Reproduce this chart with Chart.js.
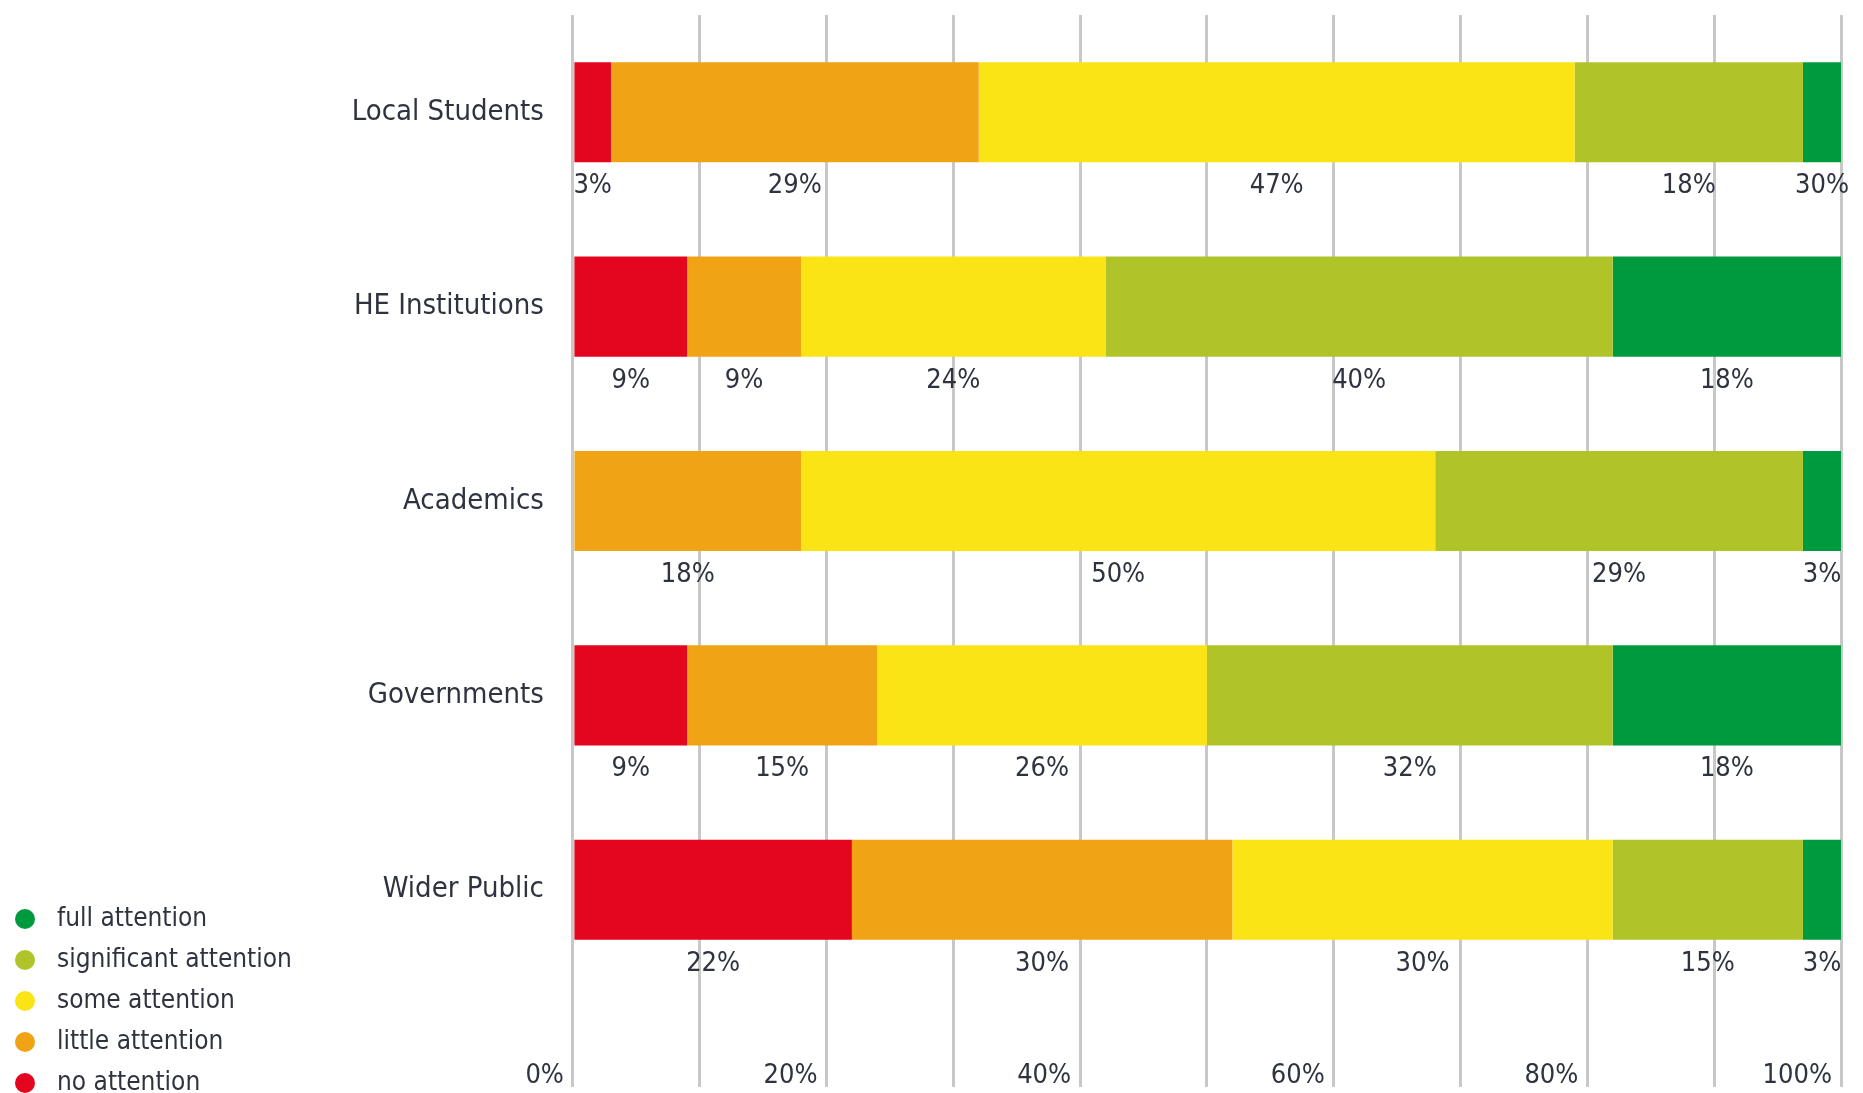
<!DOCTYPE html>
<html>
<head>
<meta charset="utf-8">
<title>Attention by stakeholder</title>
<script src="https://cdn.jsdelivr.net/npm/chart.js@4/dist/chart.umd.min.js"></script>
<style>
    body { margin: 0; background: #fff; }
    #wrap { width: 1863px; height: 1093px; }
</style>
</head>
<body>
<div id="wrap"><canvas id="attention-chart" width="1863" height="1093"></canvas></div>
<script>
// stakeholder groups, top to bottom
const groups = ['Local Students', 'HE Institutions', 'Academics', 'Governments', 'Wider Public'];

// share of answers (%) per level, stacked left to right
const noAttention = [3, 9, 0, 9, 22];
const littleAttention = [29, 9, 18, 15, 30];
const someAttention = [47, 24, 50, 26, 30];
const significantAttention = [18, 40, 29, 32, 15];
const fullAttention = [3, 18, 3, 18, 3];

const xTicks = [0, 20, 40, 60, 80, 100];

// the source prints "30%" under the last Local Students segment
const printedFixes = [[4, 0, '30%']];

const FONT = '"Liberation Sans Narrow", "DejaVu Sans Condensed", "Open Sans", sans-serif';
const TEXT = '#2f3340';

// legend marker: a dot on the left of a slightly wider box, so the text sits further right
function legendDot(color) {
    const c = document.createElement('canvas');
    c.width = 29;
    c.height = 20;
    const g = c.getContext('2d');
    g.fillStyle = color;
    g.beginPath();
    g.arc(10, 10, 10, 0, Math.PI * 2);
    g.fill();
    return c;
}

// percentage printed under each segment
const segmentLabels = {
    id: 'segmentLabels',
    afterLayout(chart) {
        // legend sits a little lower than Chart.js puts it
        if (chart.legend) { chart.legend.top += 18; chart.legend.bottom += 18; }
    },
    afterDatasetsDraw(chart) {
        const ctx = chart.ctx;
        ctx.save();
        ctx.font = '27px ' + FONT;
        ctx.fillStyle = TEXT;
        ctx.textAlign = 'center';
        ctx.textBaseline = 'middle';
        chart.data.datasets.forEach((ds, di) => {
            const meta = chart.getDatasetMeta(di);
            meta.data.forEach((bar, i) => {
                const v = ds.data[i];
                if (!v) return;
                const fix = printedFixes.find(f => f[0] === di && f[1] === i);
                const text = fix ? fix[2] : v + '%';
                const bottom = bar.y + bar.height / 2;
                ctx.fillText(text, bar.x - bar.width / 2, bottom + 24);
            });
        });
        ctx.restore();
    }
};

const ctx = document.getElementById('attention-chart').getContext('2d');
new Chart(ctx, {
    type: 'bar',
    data: {
        labels: groups,
        datasets: [
            { label: 'no attention', data: noAttention, backgroundColor: '#e3061e' },
            { label: 'little attention', data: littleAttention, backgroundColor: '#efa315' },
            { label: 'some attention', data: someAttention, backgroundColor: '#fbe416' },
            { label: 'significant attention', data: significantAttention, backgroundColor: '#b0c42a' },
            { label: 'full attention', data: fullAttention, backgroundColor: '#009a3e' }
        ]
    },
    options: {
        indexAxis: 'y',
        responsive: false,
        animation: false,
        datasets: { bar: { barPercentage: 0.515, categoryPercentage: 1, borderWidth: 0 } },
        layout: { padding: { top: 15, right: 22, bottom: 0, left: 0 } },
        scales: {
            x: {
                stacked: true,
                min: 0,
                max: 100,
                afterFit: axis => { axis.height = 106; },
                afterBuildTicks: axis => { axis.ticks = Array.from({ length: 11 }, (_, k) => ({ value: k * 10 })); },
                grid: { color: '#c8c8c8', lineWidth: 3, tickLength: 100, drawTicks: true },
                border: { display: false },
                ticks: {
                    padding: -27,
                    labelOffset: -9,
                    align: 'end',
                    autoSkip: false,
                    maxRotation: 0,
                    color: TEXT,
                    font: { family: FONT, size: 27 },
                    callback: v => xTicks.includes(v) ? v + '%' : ''
                }
            },
            y: {
                stacked: true,
                afterFit: axis => { axis.width = 271; axis.paddingTop = 0; axis.paddingBottom = 0; },
                grid: { display: false, drawTicks: false },
                border: { display: false },
                ticks: { padding: 29, color: TEXT, font: { family: FONT, size: 29 } }
            }
        },
        plugins: {
            tooltip: { enabled: false },
            legend: {
                position: 'left',
                align: 'end',
                reverse: true,
                labels: {
                    usePointStyle: true,
                    pointStyleWidth: 29,
                    boxHeight: 14,
                    padding: 15,
                    color: TEXT,
                    font: { family: FONT, size: 26 },
                    generateLabels: chart => Chart.defaults.plugins.legend.labels.generateLabels(chart)
                        .map(item => ({ ...item, pointStyle: legendDot(item.fillStyle) }))
                }
            }
        }
    },
    plugins: [segmentLabels]
});
</script>
</body>
</html>
